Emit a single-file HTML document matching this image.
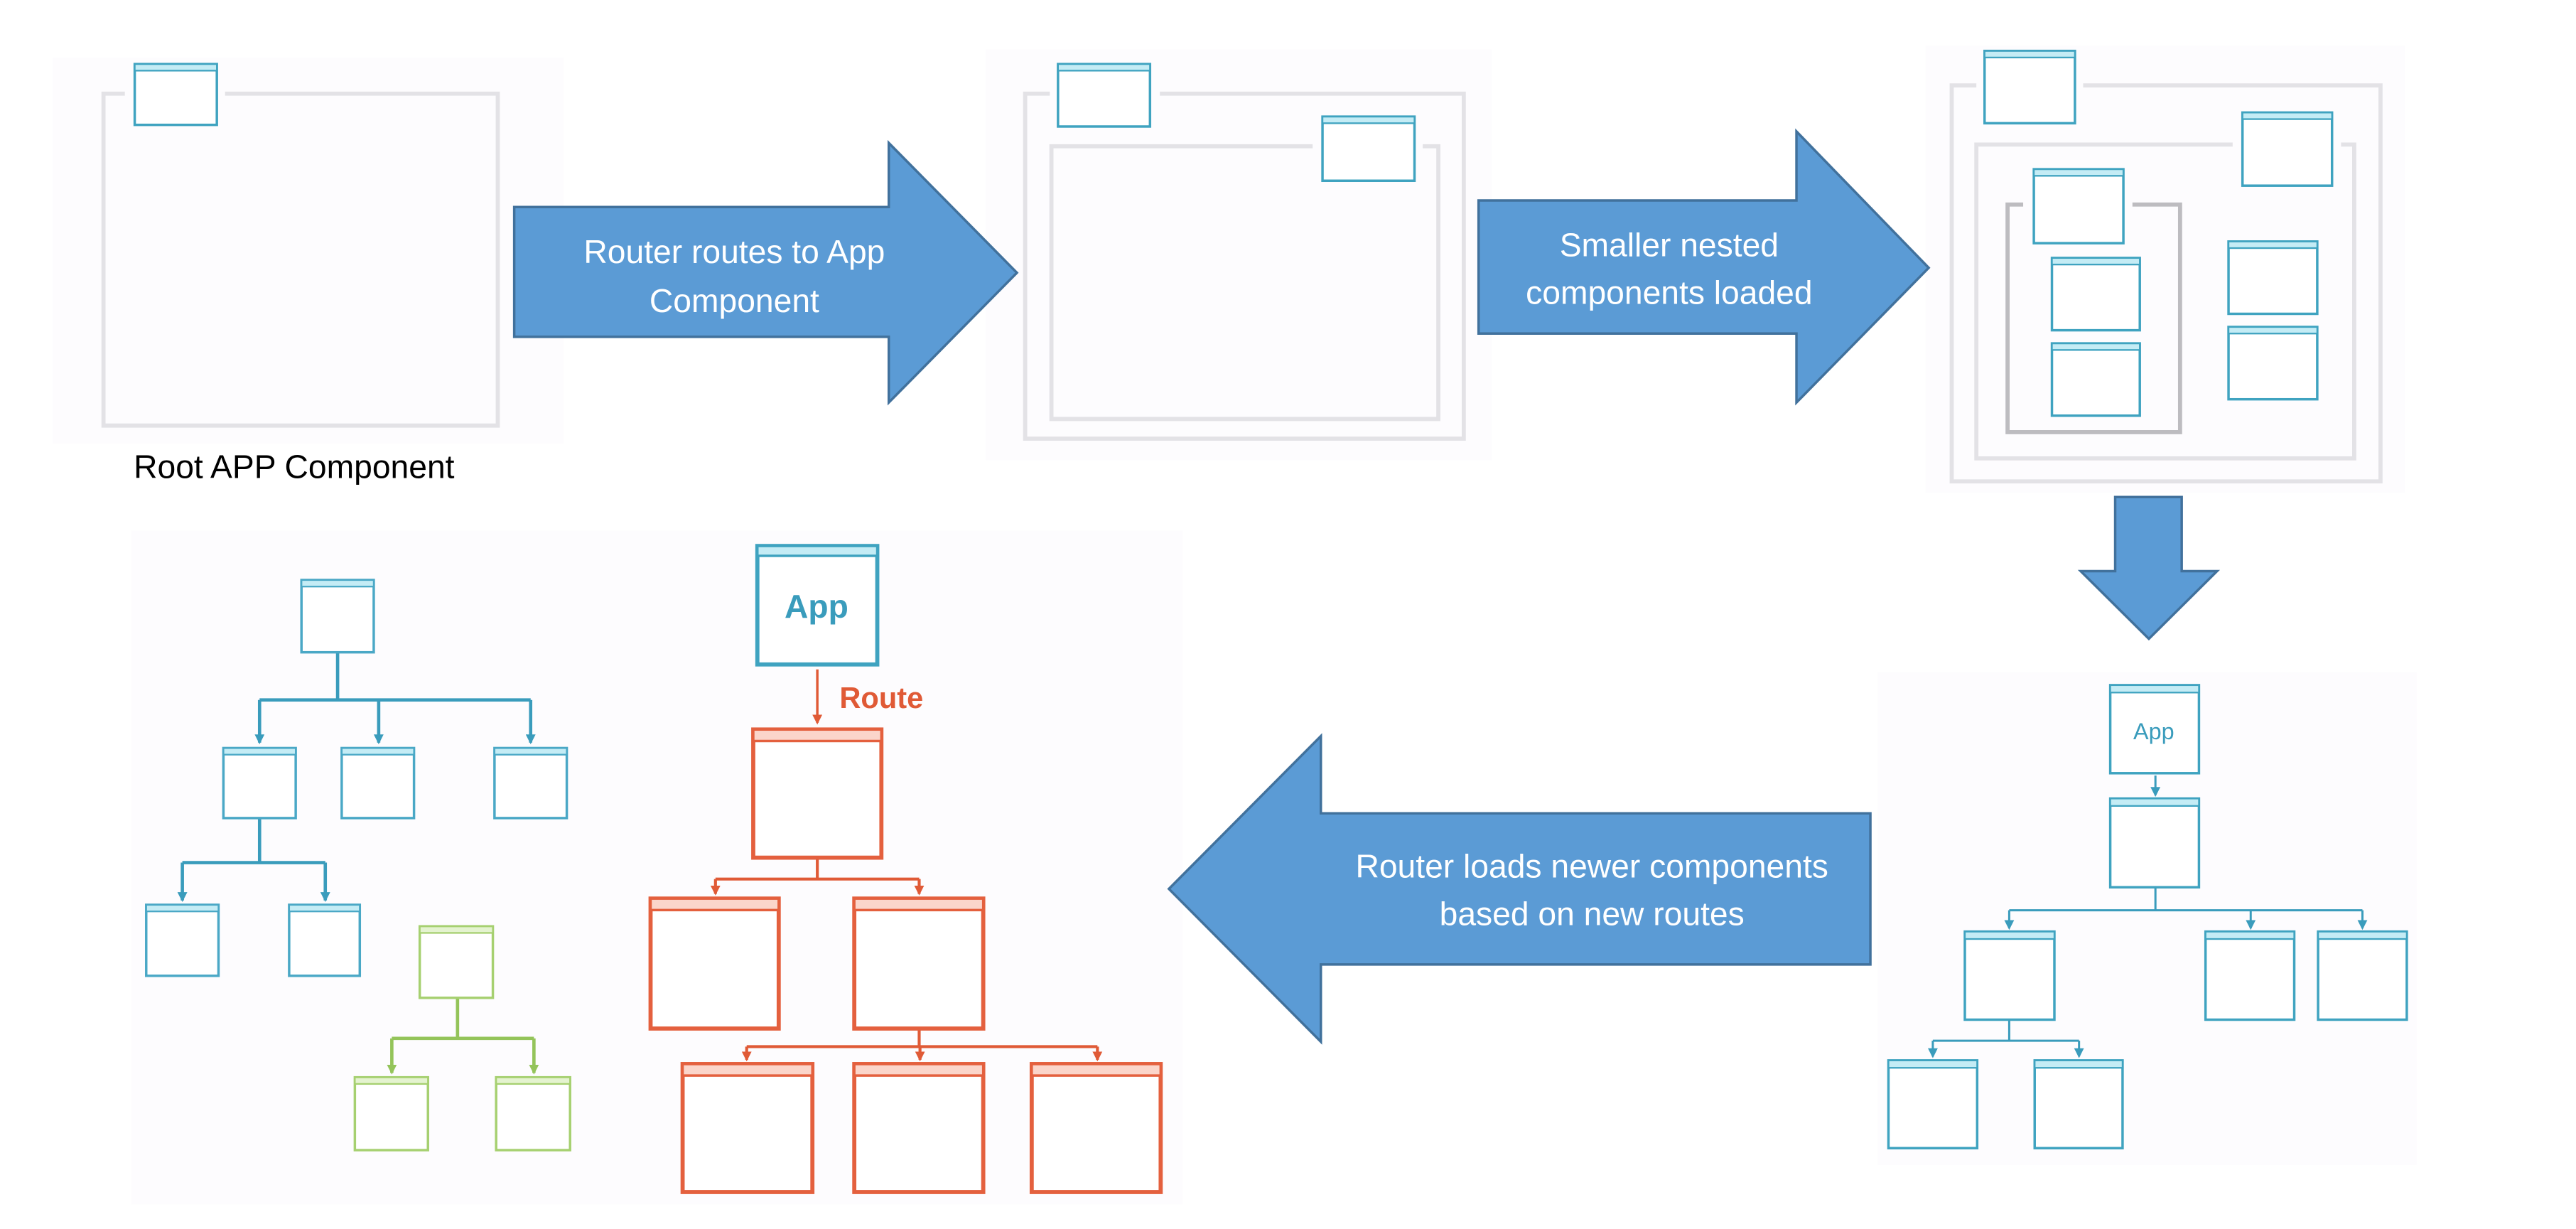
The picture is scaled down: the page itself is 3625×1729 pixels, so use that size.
<!DOCTYPE html>
<html><head><meta charset="utf-8"><style>
html,body{margin:0;padding:0;background:#fff;}
svg{display:block;}
text{font-family:"Liberation Sans",sans-serif;}
</style></head><body>
<svg width="3625" height="1729" viewBox="0 0 1568 748" preserveAspectRatio="none" xmlns="http://www.w3.org/2000/svg">
<defs>
<marker id="ab" markerWidth="6" markerHeight="6" refX="5" refY="3" orient="auto" markerUnits="userSpaceOnUse"><path d="M0,0 L6,3 L0,6 Z" fill="#3a9cbc"/></marker>
<marker id="ar" markerWidth="6" markerHeight="6" refX="5" refY="3" orient="auto" markerUnits="userSpaceOnUse"><path d="M0,0 L6,3 L0,6 Z" fill="#e05a36"/></marker>
<marker id="ag" markerWidth="6" markerHeight="6" refX="5" refY="3" orient="auto" markerUnits="userSpaceOnUse"><path d="M0,0 L6,3 L0,6 Z" fill="#94c45a"/></marker>
</defs>
<rect width="1568" height="748" fill="#ffffff"/>
<!-- panel backgrounds -->
<rect x="32" y="35" width="311" height="235" fill="#fdfcfe"/>
<rect x="600" y="30" width="308" height="250" fill="#fdfcfe"/>
<rect x="1172" y="28" width="292" height="272" fill="#fdfcfe"/>
<rect x="1143" y="409" width="328" height="300" fill="#fdfcfe"/>
<rect x="80" y="323" width="640" height="410" fill="#fdfcfe"/>

<g fill="none" stroke="#e3e2e6" stroke-width="2.5">
<path d="M76,57 H63 V259 H303 V57 H137"/>
<path d="M639,57 H624 V267 H891 V57 H706"/>
<path d="M799,89 H640 V255 H875.5 V89 H866"/>
<path d="M1203,52 H1188 V293 H1449 V52 H1268"/>
<path d="M1359,88 H1203 V279 H1433 V88 H1425"/>
</g>
<path d="M1231.5,124.5 H1222 V263 H1327 V124.5 H1298" fill="none" stroke="#bdbcc0" stroke-width="2.5"/>

<g fill="#fff" stroke="#3fa3c0" stroke-width="1.5">
<rect x="82" y="39" width="50" height="37"/>
<rect x="644" y="39" width="56" height="38"/>
<rect x="805" y="71" width="56" height="39"/>
<rect x="1208" y="31" width="55" height="44"/>
<rect x="1365" y="68.5" width="54.5" height="44.5"/>
<rect x="1238" y="103" width="54.5" height="45"/>
<rect x="1249" y="157" width="53.5" height="44"/>
<rect x="1249" y="209" width="53.5" height="44"/>
<rect x="1356.5" y="147" width="54" height="44"/>
<rect x="1356.5" y="199" width="54" height="44"/>
</g>
<g fill="#c4ecf5" stroke="#3fa3c0" stroke-width="1">
<rect x="82" y="39" width="50" height="4"/>
<rect x="644" y="39" width="56" height="4"/>
<rect x="805" y="71" width="56" height="4"/>
<rect x="1208" y="31" width="55" height="4"/>
<rect x="1365" y="68.5" width="54.5" height="4"/>
<rect x="1238" y="103" width="54.5" height="4"/>
<rect x="1249" y="157" width="53.5" height="4"/>
<rect x="1249" y="209" width="53.5" height="4"/>
<rect x="1356.5" y="147" width="54" height="4"/>
<rect x="1356.5" y="199" width="54" height="4"/>
</g>

<text x="179" y="291" font-size="20" text-anchor="middle" fill="#000">Root APP Component</text>

<g fill="#5b9bd5" stroke="#41719c" stroke-width="1.5">
<path d="M313,126 H541 V87 L619,166 L541,245 V205 H313 Z"/>
<path d="M900,122 H1093.5 V80 L1174,163 L1093.5,245 V203 H900 Z"/>
<path d="M1287.5,302.5 H1328 V347.6 H1349.5 L1308,388.8 L1266.5,347.6 H1287.5 Z"/>
<path d="M1138.5,495 H804 V448 L711.5,541 L804,634 V587 H1138.5 Z"/>
</g>
<g fill="#fff" font-size="20" text-anchor="middle">
<text x="447" y="160">Router routes to App</text>
<text x="447" y="190">Component</text>
<text x="1016" y="156">Smaller nested</text>
<text x="1016" y="185">components loaded</text>
<text x="969" y="534">Router loads newer components</text>
<text x="969" y="563">based on new routes</text>
</g>

<g fill="none" stroke="#3a9cbc" stroke-width="1.3">
<line x1="1312" y1="472" x2="1312" y2="484" marker-end="url(#ab)"/>
<path d="M1312,540 V554"/>
<path d="M1223,554 H1438"/>
<line x1="1223" y1="554" x2="1223" y2="565" marker-end="url(#ab)"/>
<line x1="1370" y1="554" x2="1370" y2="565" marker-end="url(#ab)"/>
<line x1="1438" y1="554" x2="1438" y2="565" marker-end="url(#ab)"/>
<path d="M1223,621 V633.4 M1176.5,633.4 H1265.5"/>
<line x1="1176.5" y1="633.4" x2="1176.5" y2="643" marker-end="url(#ab)"/>
<line x1="1265.5" y1="633.4" x2="1265.5" y2="643" marker-end="url(#ab)"/>
</g>
<g fill="#fff" stroke="#3fa3c0" stroke-width="1.5">
<rect x="1284.5" y="417" width="54" height="53.6"/>
<rect x="1284.5" y="486" width="54" height="54"/>
<rect x="1196" y="567" width="54.5" height="53.6"/>
<rect x="1342.5" y="567" width="54" height="53.6"/>
<rect x="1411" y="567" width="54" height="53.6"/>
<rect x="1149.5" y="645.4" width="54" height="53.4"/>
<rect x="1238.5" y="645.4" width="53.5" height="53.4"/>
</g>
<g fill="#c4ecf5" stroke="#3fa3c0" stroke-width="1">
<rect x="1284.5" y="417" width="54" height="4.5"/>
<rect x="1284.5" y="486" width="54" height="4.5"/>
<rect x="1196" y="567" width="54.5" height="4.5"/>
<rect x="1342.5" y="567" width="54" height="4.5"/>
<rect x="1411" y="567" width="54" height="4.5"/>
<rect x="1149.5" y="645.4" width="54" height="4.5"/>
<rect x="1238.5" y="645.4" width="53.5" height="4.5"/>
</g>
<text x="1311" y="450" font-size="14" text-anchor="middle" fill="#3a9cbc">App</text>

<g fill="none" stroke="#3a9cbc" stroke-width="2">
<path d="M205.5,397 V426 M158,426 H323"/>
<line x1="158" y1="426" x2="158" y2="452" marker-end="url(#ab)"/>
<line x1="230.5" y1="426" x2="230.5" y2="452" marker-end="url(#ab)"/>
<line x1="323" y1="426" x2="323" y2="452" marker-end="url(#ab)"/>
<path d="M158,498 V525 M111,525 H198"/>
<line x1="111" y1="525" x2="111" y2="548" marker-end="url(#ab)"/>
<line x1="198" y1="525" x2="198" y2="548" marker-end="url(#ab)"/>
</g>
<g fill="#fff" stroke="#4aa8c6" stroke-width="1.5">
<rect x="183.5" y="353" width="44" height="44"/>
<rect x="136" y="455.3" width="44" height="42.6"/>
<rect x="208" y="455.3" width="44" height="42.6"/>
<rect x="301" y="455.3" width="44" height="42.6"/>
<rect x="89" y="550.7" width="44" height="43.2"/>
<rect x="176" y="550.7" width="43" height="43.2"/>
</g>
<g fill="#c4ecf5" stroke="#4aa8c6" stroke-width="1">
<rect x="183.5" y="353" width="44" height="4"/>
<rect x="136" y="455.3" width="44" height="4"/>
<rect x="208" y="455.3" width="44" height="4"/>
<rect x="301" y="455.3" width="44" height="4"/>
<rect x="89" y="550.7" width="44" height="4"/>
<rect x="176" y="550.7" width="43" height="4"/>
</g>

<g fill="none" stroke="#94c45a" stroke-width="2">
<path d="M278.5,607.3 V632 M238.5,632 H325"/>
<line x1="238.5" y1="632" x2="238.5" y2="653" marker-end="url(#ag)"/>
<line x1="325" y1="632" x2="325" y2="653" marker-end="url(#ag)"/>
</g>
<g fill="#fff" stroke="#a6d070" stroke-width="1.5">
<rect x="255.5" y="563.8" width="44.5" height="43.5"/>
<rect x="216" y="655.7" width="44.5" height="44.3"/>
<rect x="302" y="655.7" width="45" height="44.3"/>
</g>
<g fill="#e4f3cf" stroke="#a6d070" stroke-width="1">
<rect x="255.5" y="563.8" width="44.5" height="4"/>
<rect x="216" y="655.7" width="44.5" height="4"/>
<rect x="302" y="655.7" width="45" height="4"/>
</g>

<rect x="461" y="332.3" width="73" height="72.1" fill="#fff" stroke="#3fa3c0" stroke-width="2.5"/>
<rect x="461" y="332.3" width="73" height="6" fill="#c4ecf5" stroke="#3fa3c0" stroke-width="1.5"/>
<text x="497" y="376" font-size="20" font-weight="bold" text-anchor="middle" fill="#3a9cbc">App</text>
<g fill="none" stroke="#e05a36" stroke-width="1.5">
<line x1="497.5" y1="407.4" x2="497.5" y2="440" marker-end="url(#ar)"/>
</g>
<text x="511" y="431" font-size="18" font-weight="bold" fill="#e05a36">Route</text>
<g fill="none" stroke="#e05a36" stroke-width="1.8">
<path d="M497.5,522 V535 M435.5,535 H559.5"/>
<line x1="435.5" y1="535" x2="435.5" y2="544" marker-end="url(#ar)"/>
<line x1="559.5" y1="535" x2="559.5" y2="544" marker-end="url(#ar)"/>
<path d="M559.5,626 V637 M454.5,637 H668"/>
<line x1="454.5" y1="637" x2="454.5" y2="645" marker-end="url(#ar)"/>
<line x1="560" y1="637" x2="560" y2="645" marker-end="url(#ar)"/>
<line x1="668" y1="637" x2="668" y2="645" marker-end="url(#ar)"/>
</g>
<g fill="#fff" stroke="#e4603e" stroke-width="2.5">
<rect x="458.5" y="444" width="78" height="78"/>
<rect x="396" y="546.9" width="78" height="79.1"/>
<rect x="520" y="546.9" width="78.5" height="79.1"/>
<rect x="415.5" y="647.6" width="79" height="77.9"/>
<rect x="520" y="647.6" width="78.5" height="77.9"/>
<rect x="628" y="647.6" width="78.5" height="77.9"/>
</g>
<g fill="#fbd5ca" stroke="#e4603e" stroke-width="1.5">
<rect x="458.5" y="444" width="78" height="7"/>
<rect x="396" y="546.9" width="78" height="7"/>
<rect x="520" y="546.9" width="78.5" height="7"/>
<rect x="415.5" y="647.6" width="79" height="7"/>
<rect x="520" y="647.6" width="78.5" height="7"/>
<rect x="628" y="647.6" width="78.5" height="7"/>
</g>
</svg>
</body></html>
